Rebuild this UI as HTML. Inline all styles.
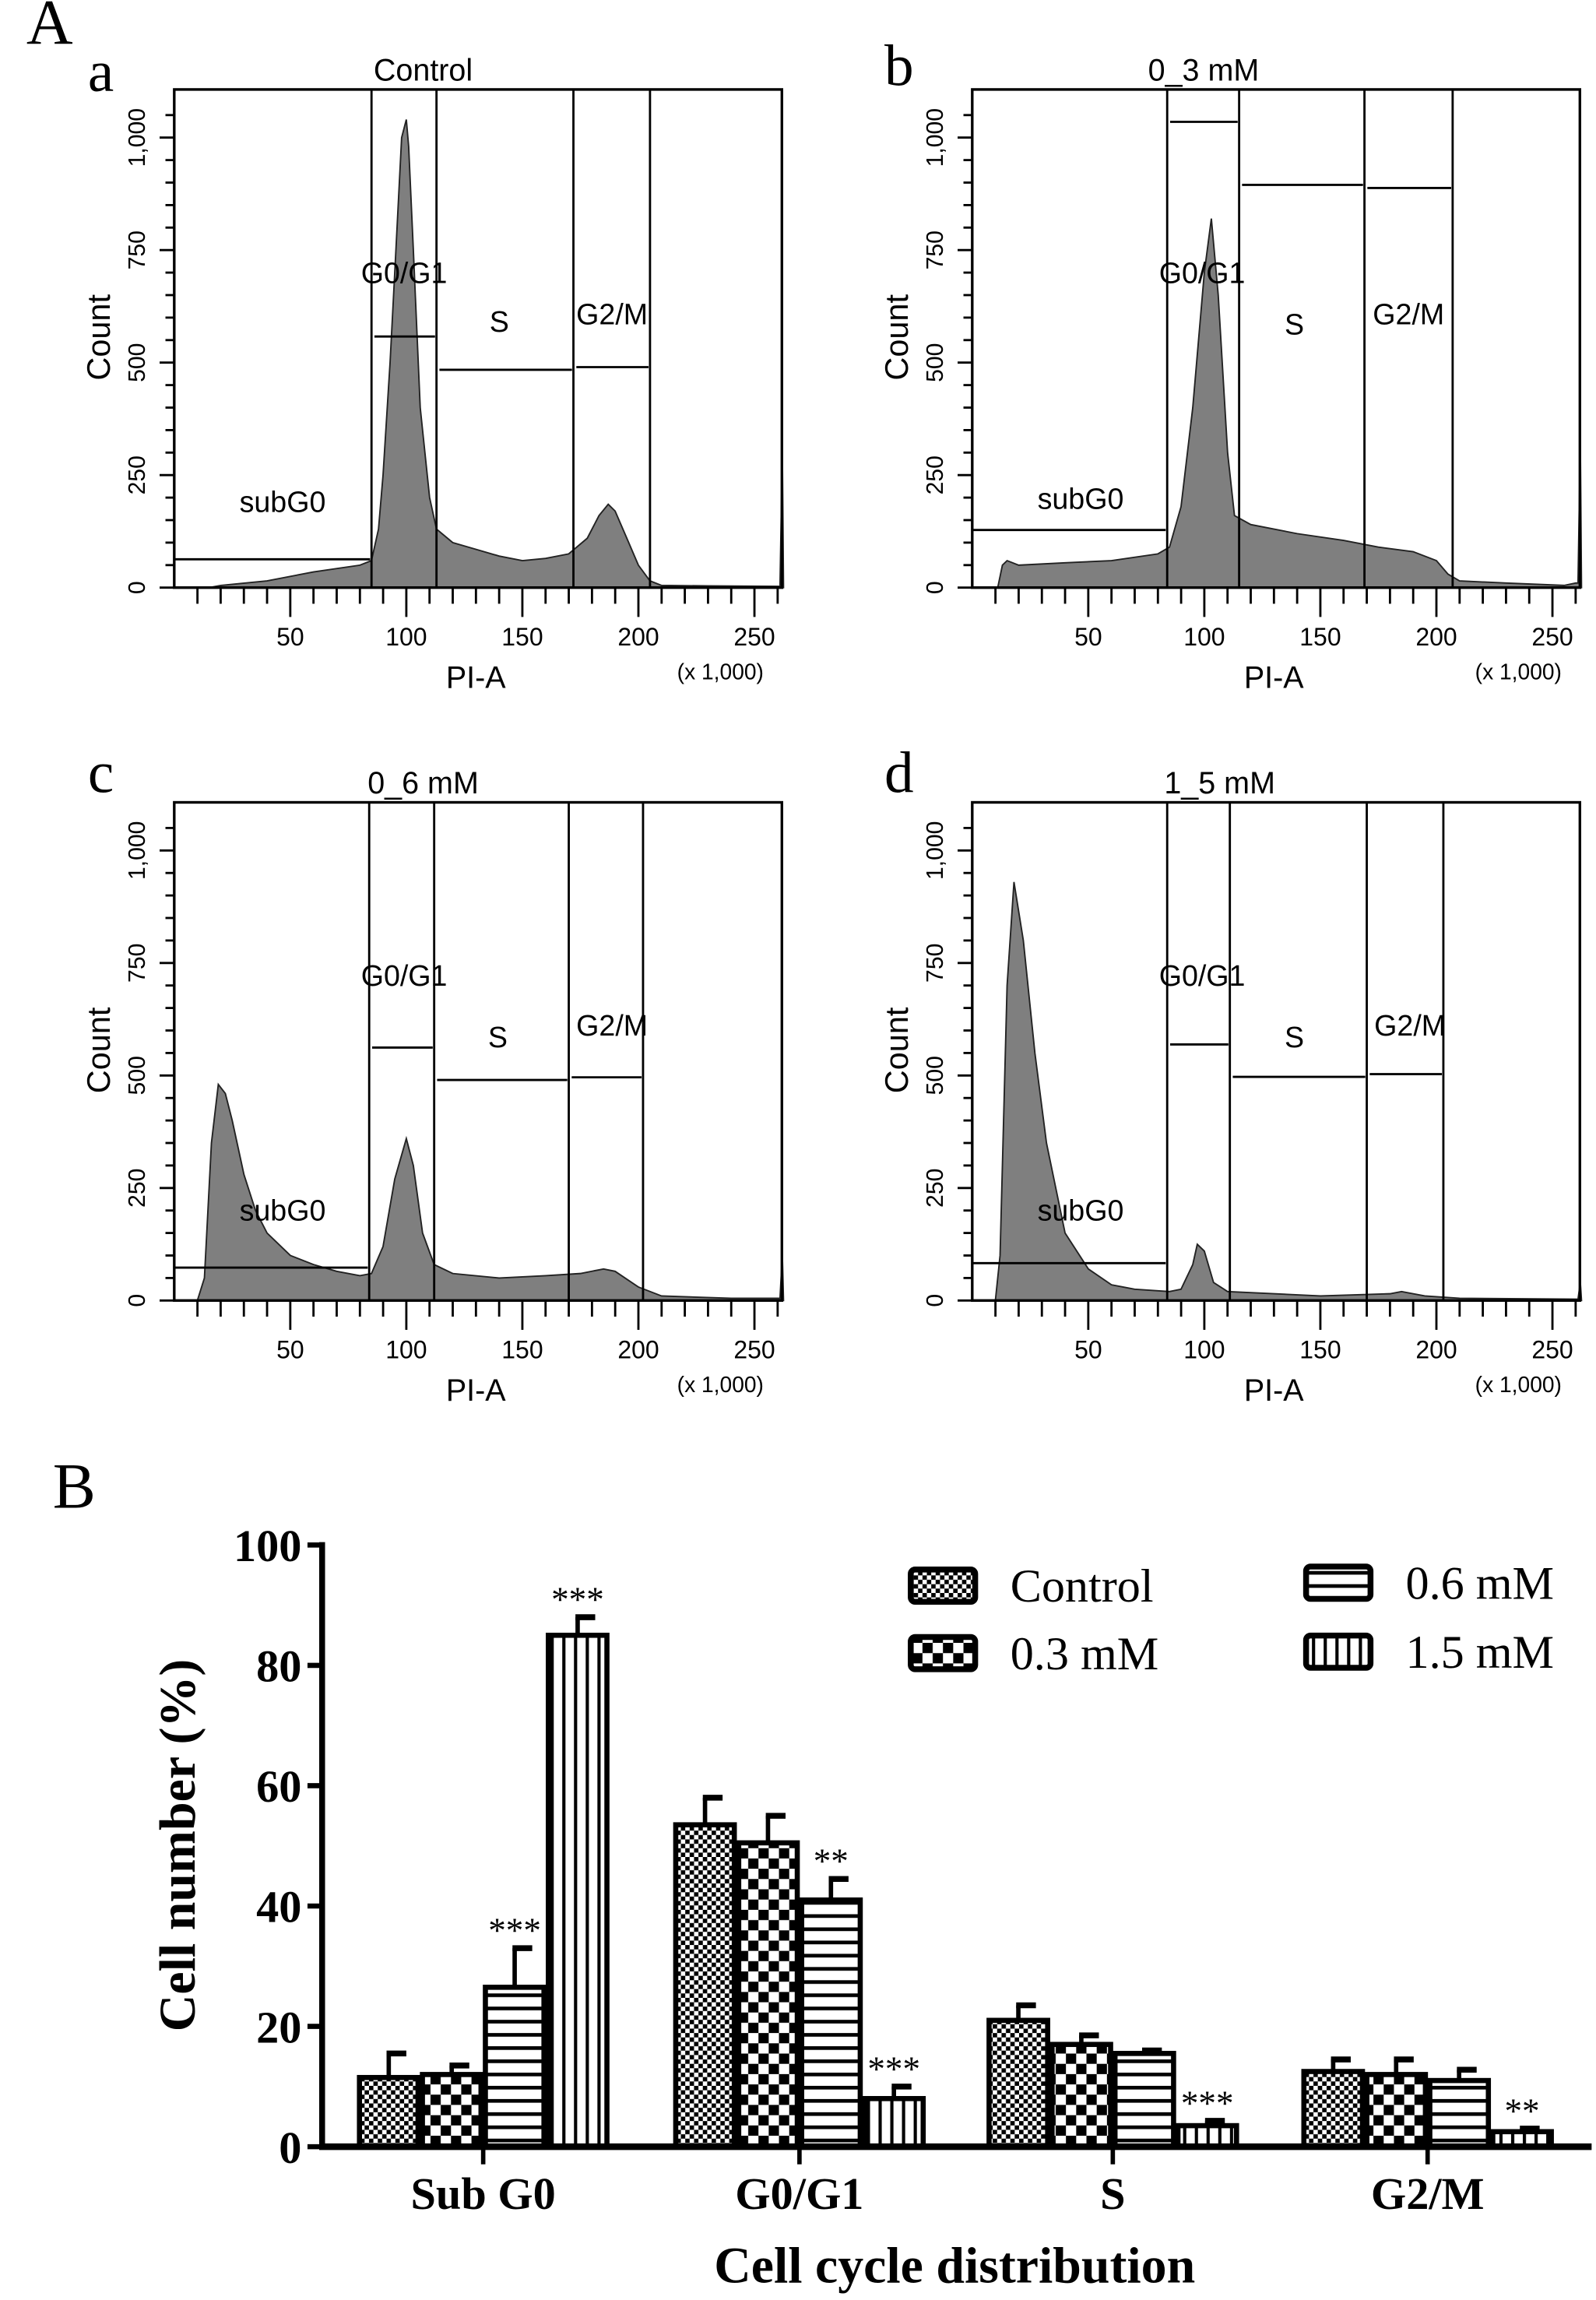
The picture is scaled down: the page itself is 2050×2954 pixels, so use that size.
<!DOCTYPE html>
<html><head><meta charset="utf-8">
<style>
html,body{margin:0;padding:0;background:#fff;}
svg{display:block;}
.sans{font-family:"Liberation Sans","DejaVu Sans",sans-serif;}
.serif{font-family:"Liberation Serif","DejaVu Serif",serif;}
</style></head>
<body>
<svg id="fig" xmlns="http://www.w3.org/2000/svg" width="2050" height="2954" viewBox="0 0 1090 1568" preserveAspectRatio="none">
<defs>
<pattern id="pCtrl" patternUnits="userSpaceOnUse" width="6" height="6"><rect width="6" height="6" fill="#fff"/><rect width="3" height="3" fill="#000"/><rect x="3" y="3" width="3" height="3" fill="#000"/></pattern>
<pattern id="p03" patternUnits="userSpaceOnUse" width="14" height="14"><rect width="14" height="14" fill="#fff"/><rect width="7" height="7" fill="#000"/><rect x="7" y="7" width="7" height="7" fill="#000"/></pattern>
<pattern id="p06" patternUnits="userSpaceOnUse" width="9" height="9"><rect width="9" height="9" fill="#fff"/><rect y="0" width="9" height="2.5" fill="#000"/></pattern>
<pattern id="p15" patternUnits="userSpaceOnUse" width="8" height="8"><rect width="8" height="8" fill="#fff"/><rect x="0" width="2.2" height="8" fill="#000"/></pattern>
</defs>
<g id="flow"></g>
<g id="bars"></g>
</svg>
<script>
// ---------- Flow cytometry data ----------
const histA_x = [0,15,20,40,60,80,85,88,90,93,95,98,100,101,103,106,110,113,120,130,140,150,160,170,178,183,187,190,195,200,205,210,230,260,261,262,262.5];
const histA_y = [0,0,5,15,35,50,60,130,250,500,700,1000,1040,980,750,400,200,130,100,85,70,60,65,75,110,160,185,170,110,50,15,5,4,3,3,300,0];
const histB_x = [0,11,13,15,20,40,60,80,85,90,95,100,103,106,110,113,120,140,160,175,190,200,205,210,230,255,260,261,262,262.5];
const histB_y = [0,0,50,60,50,55,60,75,90,180,400,700,820,650,300,160,140,120,105,90,80,60,30,15,10,5,10,10,320,0];
const histC_x = [0,10,13,16,19,22,25,30,35,40,50,60,70,80,85,90,95,100,103,107,112,120,140,160,175,185,190,200,210,240,260,261,262,262.5];
const histC_y = [0,0,50,350,480,460,400,280,200,150,100,80,65,55,60,120,270,360,300,150,80,60,50,55,60,70,65,30,10,5,5,5,100,0];
const histD_x = [0,10,12,15,18,22,27,32,40,50,60,70,85,90,95,97,100,104,110,150,180,185,195,210,260,261,262,262.5];
const histD_y = [0,0,100,700,930,800,550,350,150,70,35,25,20,25,80,125,110,40,20,10,15,20,10,5,3,3,40,0];
const flowTitles = ["Control","0_3 mM","0_6 mM","1_5 mM"];
const flowLetters = ["a","b","c","d"];
const gateX = [[85,113,172,205],[84,115,169,207],[84,112,170,202],[84,111,170,203]];
const gateCounts = [[63,558,484,490],[128,1035,895,888],[73,562,490,496],[83,569,497,503]];
const xTicks = [50,100,150,200,250];
const yTicks = [0,250,500,750,1000];
const yTickLabels = ["0","250","500","750","1,000"];

// ---------- Bar chart data ----------
const categories = ["Sub G0","G0/G1","S","G2/M"];
const seriesNames = ["Control","0.3 mM","0.6 mM","1.5 mM"];
const valControl = [11.5,53.5,21,12.5];
const val03 = [12,50.5,17,12];
const val06 = [26.5,41,15.5,11];
const val15 = [85,8,3.5,2.5];
const errControl = [4,4.5,2.5,2];
const err03 = [1.5,4.5,1.5,2.5];
const err06 = [6.5,3.5,0.5,1.8];
const err15 = [3,2,0.8,0.5];
const stars06 = ["***","**","",""];
const stars15 = ["***","***","***","**"];
const barTicks = [0,20,40,60,80,100];

const NS="http://www.w3.org/2000/svg";
function mk(tag, attrs, parent, text){
  const e=document.createElementNS(NS,tag);
  for(const k in attrs) e.setAttribute(k,attrs[k]);
  if(text!==undefined) e.textContent=text;
  parent.appendChild(e);
  return e;
}
const fig=document.getElementById('fig');
const flow=document.getElementById('flow');
const bars=document.getElementById('bars');

// Letters
let t=mk('text',{x:18,y:30,'font-size':44,class:'serif'},flow,'A');


t=mk('text',{x:36,y:1028,'font-size':44,class:'serif'},bars,'B');



const hists=[[histA_x,histA_y],[histB_x,histB_y],[histC_x,histC_y],[histD_x,histD_y]];
const offsets=[[0,0],[545,0],[0,486],[545,486]];
const letterPos=[[60,62],[604,58],[60,540],[604,540]];
const gateLabelPos=[[[193,349],[276,193],[341,226],[418,221]],[[193,347],[276,193],[339,228],[417,221]],[[193,346],[276,186],[340,228],[418,220]],[[193,346],[276,186],[339,228],[418,220]]];
const gateNames=["subG0","G0/G1","S","G2/M"];

for(let p=0;p<4;p++){
  const [ox,oy]=offsets[p];
  const g=mk('g',{transform:`translate(${ox},${oy})`},flow);
  
  
  const L=119,R=534,T=61,B=400.6;
  const xs=v=>L+1.585*v;
  const ys=c=>B-0.3068*c;
  // letter
  t=mk('text',{x:letterPos[p][0]-ox+(p%2?0:0),y:letterPos[p][1]-(p<2?0:486)+ (p<2?0:0),'font-size':40,class:'serif'},g,flowLetters[p]);
  
  
  // histogram
  const [hx,hy]=hists[p];
  let d=`M${xs(hx[0])},${ys(0)}`;
  for(let i=0;i<hx.length;i++) d+=` L${xs(hx[i]).toFixed(1)},${ys(hy[i]).toFixed(1)}`;
  d+=` L${xs(hx[hx.length-1])},${ys(0)} Z`;
  const h=mk('path',{d:d,fill:'#7f7f7f',stroke:'#222','stroke-width':1},g);
  
  
  // frame
  const fr=mk('rect',{x:L,y:T,width:R-L,height:B-T,fill:'none',stroke:'#000','stroke-width':1.8},g);
  
  
  // gates
  const gx=gateX[p];
  const bounds=[0,gx[0],gx[1],gx[2],gx[3]];
  for(let k=0;k<4;k++){
    const vl=mk('line',{x1:xs(gx[k]),x2:xs(gx[k]),y1:T,y2:B,stroke:'#000','stroke-width':1.5},g);
    
    
    const hl=mk('line',{x1:xs(bounds[k])+(k?2:0),x2:xs(bounds[k+1])-1,y1:ys(gateCounts[p][k]),y2:ys(gateCounts[p][k]),stroke:'#000','stroke-width':1.5},g);
    
    
    const lp=gateLabelPos[p][k];
    t=mk('text',{x:lp[0],y:lp[1]-(p<2?0:0),'font-size':20,'text-anchor':'middle',class:'sans'},g,gateNames[k]);
    
    
  }
  // title
  t=mk('text',{x:p===1?277:(p===3?288:289),y:55,'font-size':21,'text-anchor':'middle',class:'sans'},g,flowTitles[p]);
  
  
  // y ticks
  for(let c=0;c<=1050;c+=50){
    const major=c%250===0;
    const tk=mk('line',{x1:L-(major?10:6),x2:L,y1:ys(c),y2:ys(c),stroke:'#000','stroke-width':1.5},g);
    
    
  }
  for(let i=0;i<yTicks.length;i++){
    const y=ys(yTicks[i]);
    t=mk('text',{x:0,y:0,'font-size':16,'text-anchor':'middle',class:'sans',transform:`translate(99,${y}) rotate(-90)`},g,yTickLabels[i]);
    
    
  }
  t=mk('text',{x:0,y:0,'font-size':22,'text-anchor':'middle',class:'sans',transform:`translate(75,230) rotate(-90)`},g,'Count');
  
  
  // x ticks
  for(let v=10;v<=260;v+=10){
    const major=v%50===0;
    const tk=mk('line',{x1:xs(v),x2:xs(v),y1:B,y2:B+(major?20:11),stroke:'#000','stroke-width':1.5},g);
    
    
  }
  for(let i=0;i<xTicks.length;i++){
    t=mk('text',{x:xs(xTicks[i]),y:440,'font-size':17,'text-anchor':'middle',class:'sans'},g,String(xTicks[i]));
    
    
  }
  t=mk('text',{x:325,y:469,'font-size':21,'text-anchor':'middle',class:'sans'},g,'PI-A');
  
  
  t=mk('text',{x:492,y:463,'font-size':15,'text-anchor':'middle',class:'sans'},g,'(x 1,000)');
  
  
}

// ---------- Bar chart ----------
const AX=220, Y0=1463.5, Y100=1053.3, XEND=1087;
const yb=v=>Y0-(Y0-Y100)*v/100;
const catX=[330,546,760,975];
const xc=i=>catX[i];
const vals=[valControl,val03,val06,val15];
const errs=[errControl,err03,err06,err15];
const pats=['url(#pCtrl)','url(#p03)','url(#p06)','url(#p15)'];
const BW=40, STEP=43;
for(let c=0;c<categories.length;c++){
  for(let s=0;s<4;s++){
    const x=xc(c)-2*STEP+s*STEP+1.5;
    const v=vals[s][c], e=errs[s][c];
    // error bar
    const el=mk('line',{x1:x+BW/2,x2:x+BW/2,y1:yb(v),y2:yb(v+e),stroke:'#000','stroke-width':3},bars);
    
    
    const ec=mk('line',{x1:x+BW/2-1.5,x2:x+BW/2+12,y1:yb(v+e),y2:yb(v+e),stroke:'#000','stroke-width':4},bars);
    
    
    const r=mk('rect',{x:x,y:yb(v),width:BW,height:Y0-yb(v),fill:pats[s],stroke:'#000','stroke-width':3.5},bars);
    
    
    const st=s===2?stars06[c]:(s===3?stars15[c]:'');
    if(st){
      t=mk('text',{x:x+BW/2,y:yb(v+e)-4,'font-size':24,'text-anchor':'middle',class:'serif'},bars,st);
      
      
    }
  }
  const tk=mk('line',{x1:xc(c),x2:xc(c),y1:Y0,y2:Y0+12,stroke:'#000','stroke-width':3},bars);
  
  
  t=mk('text',{x:xc(c),y:1506,'font-size':31,'font-weight':'bold','text-anchor':'middle',class:'serif'},bars,categories[c]);
  
  
}
// axes
let ax=mk('line',{x1:AX,x2:AX,y1:Y100-2,y2:Y0+2,stroke:'#000','stroke-width':4},bars);


ax=mk('line',{x1:AX-2,x2:XEND,y1:Y0,y2:Y0,stroke:'#000','stroke-width':4.5},bars);


for(let i=0;i<barTicks.length;i++){
  const tk=mk('line',{x1:AX-10,x2:AX,y1:yb(barTicks[i]),y2:yb(barTicks[i]),stroke:'#000','stroke-width':3.5},bars);
  
  
  t=mk('text',{x:206,y:yb(barTicks[i])+11,'font-size':31,'font-weight':'bold','text-anchor':'end',class:'serif'},bars,String(barTicks[i]));
  
  
}
t=mk('text',{x:0,y:0,'font-size':35,'font-weight':'bold','text-anchor':'middle',class:'serif',transform:'translate(133,1258) rotate(-90)'},bars,'Cell number (%)');


t=mk('text',{x:652,y:1556,'font-size':35,'font-weight':'bold','text-anchor':'middle',class:'serif'},bars,'Cell cycle distribution');


// legend
const legPos=[[620,1068],[620,1114],[890,1066],[890,1113]];
for(let s=0;s<4;s++){
  const [lx,ly]=legPos[s];
  const lr=mk('rect',{x:lx+2,y:ly+2,width:44,height:22,rx:3,fill:pats[s],stroke:'#000','stroke-width':4},bars);
  
  
  t=mk('text',{x:lx+70,y:ly+24,'font-size':32,class:'serif'},bars,seriesNames[s]);
  
  
}
</script>
</body></html>
